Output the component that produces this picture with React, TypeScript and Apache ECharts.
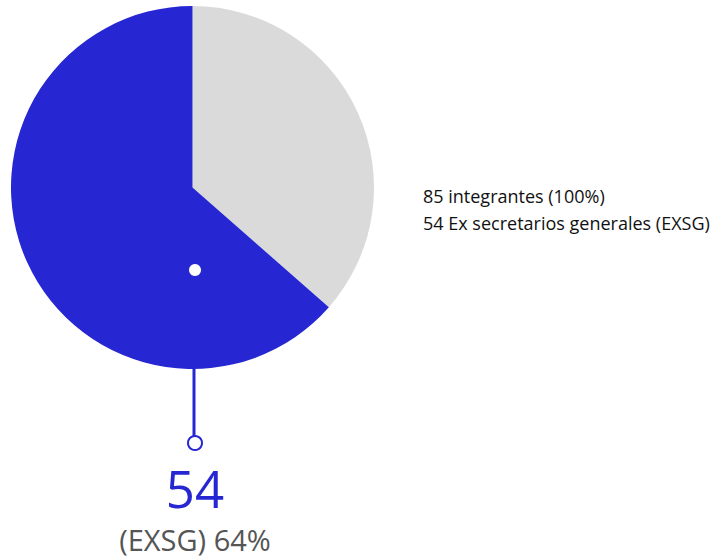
import React, { useEffect, useRef } from "react";
import * as echarts from "echarts";

const categories = ["Otros", "Ex secretarios generales (EXSG)"];
const values = [31, 54];
const colors = ["#dadada", "#2626d2"];
const total = 85;
const legendLines = ["85 integrantes (100%)", "54 Ex secretarios generales (EXSG)"];

export default function App() {
  const ref = useRef<HTMLDivElement>(null);
  useEffect(() => {
    document.body.style.margin = "0";
    const chart = echarts.init(ref.current!, null, { renderer: "svg" });
    const pct = Math.round((values[1] / total) * 100);
    chart.setOption({
      animation: false,
      series: [
        {
          type: "pie",
          center: [192.5, 187.5],
          radius: 181.5,
          startAngle: 90,
          clockwise: true,
          label: { show: false },
          labelLine: { show: false },
          silent: true,
          data: categories.map((c, i) => ({ name: c, value: values[i], itemStyle: { color: colors[i] } })),
        },
      ],
      graphic: [
        { type: "circle", z: 100, shape: { cx: 195, cy: 270, r: 6 }, style: { fill: "#ffffff" } },
        { type: "line", z: 100, shape: { x1: 194, y1: 368, x2: 194, y2: 436 }, style: { stroke: "#2626d2", lineWidth: 3 } },
        { type: "circle", z: 100, shape: { cx: 195, cy: 443, r: 7 }, style: { fill: "#ffffff", stroke: "#2626d2", lineWidth: 2 } },
        {
          type: "text", z: 100, x: 195, y: 488,
          style: { text: String(values[1]), fill: "#2626d2", fontSize: 51, fontFamily: "Open Sans", lineHeight: 40, align: "center", verticalAlign: "middle" },
        },
        {
          type: "text", z: 100, x: 195, y: 539,
          style: { text: `(EXSG) ${pct}%`, fill: "#555555", fontSize: 29, fontFamily: "Open Sans", lineHeight: 28, align: "center", verticalAlign: "middle" },
        },
        {
          type: "text", z: 100, x: 423, y: 196,
          style: { text: legendLines[0], fill: "#111111", fontSize: 18, fontFamily: "Open Sans", align: "left", verticalAlign: "middle" },
        },
        {
          type: "text", z: 100, x: 423, y: 223,
          style: { text: legendLines[1], fill: "#111111", fontSize: 18, fontFamily: "Open Sans", align: "left", verticalAlign: "middle" },
        },
      ],
    });
    return () => chart.dispose();
  }, []);
  return <div ref={ref} style={{ width: 722, height: 558 }} />;
}
